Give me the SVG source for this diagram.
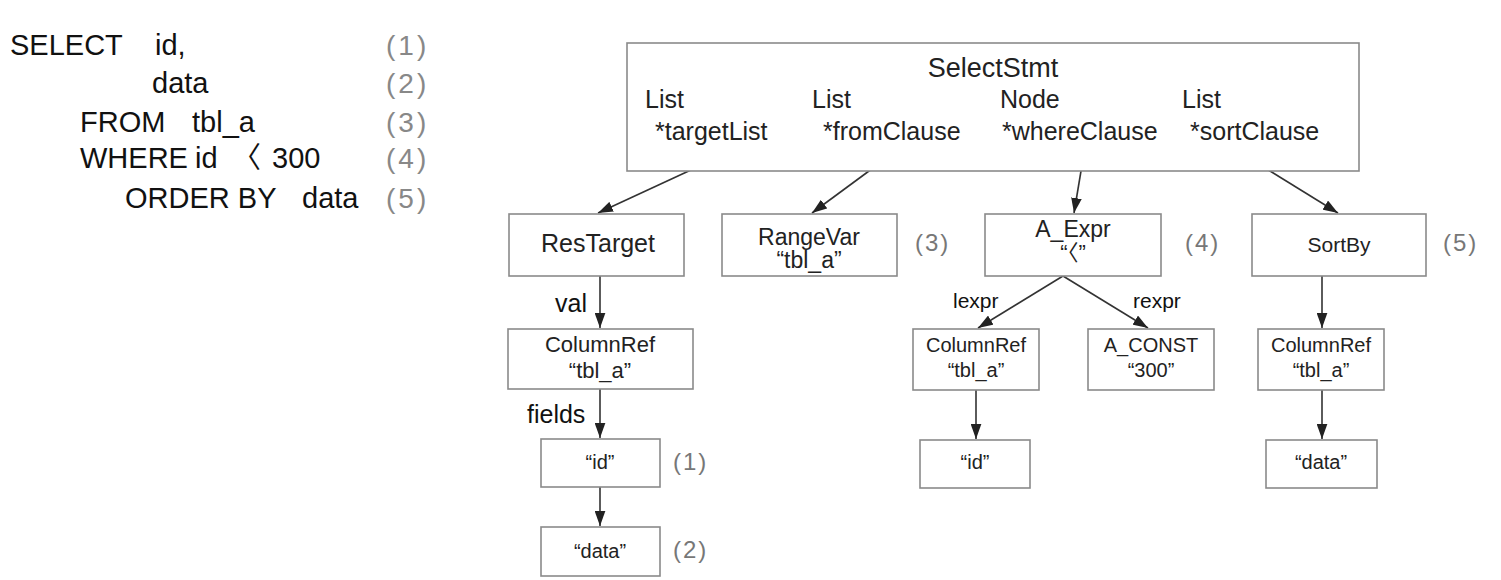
<svg xmlns="http://www.w3.org/2000/svg" width="1501" height="580" viewBox="0 0 1501 580">
<defs>
<marker id="ah" viewBox="0 0 14 10" refX="14" refY="5" markerWidth="15" markerHeight="11" markerUnits="userSpaceOnUse" orient="auto">
<path d="M0,0 L14,5 L0,10 z" fill="#222"/>
</marker>
</defs>
<style>
text{font-family:"Liberation Sans","Noto Sans CJK JP",sans-serif;fill:#222}
.sql{font-size:29px;fill:#111}
.num{font-size:28px;fill:#888;letter-spacing:3px}
.gnum{font-size:24px;fill:#777;letter-spacing:2px}
.box{fill:#fff;stroke:#8a8a8a;stroke-width:1.6}
.top{font-size:25px}
.lbl{font-size:25px;fill:#111}
.el{font-size:21px;fill:#111}
.c{text-anchor:middle}
.con line{stroke:#333;stroke-width:1.6;fill:none;marker-end:url(#ah)}
</style>
<rect width="1501" height="580" fill="#fff"/>

<g id="sql">
<text class="sql" x="10" y="55">SELECT</text><text class="sql" x="155" y="55">id,</text>
<text class="sql" x="152" y="93">data</text>
<text class="sql" x="80" y="132">FROM</text><text class="sql" x="192" y="132">tbl_a</text>
<text class="sql" x="80" y="168">WHERE</text><text class="sql" x="195" y="168">id</text><text class="sql" x="232" y="168">〈</text><text class="sql" x="272" y="168">300</text>
<text class="sql" x="125" y="208">ORDER BY</text><text class="sql" x="302" y="208">data</text>
<text class="num" x="386" y="55">(1)</text>
<text class="num" x="386" y="93">(2)</text>
<text class="num" x="386" y="132">(3)</text>
<text class="num" x="386" y="168">(4)</text>
<text class="num" x="386" y="208">(5)</text>
</g>

<g id="connectors" class="con">
<line x1="719" y1="157" x2="598" y2="213"/>
<line x1="888" y1="157" x2="812" y2="213"/>
<line x1="1082" y1="165" x2="1074" y2="213"/>
<line x1="1257" y1="163" x2="1338" y2="213"/>
<line x1="600" y1="276" x2="600" y2="328"/>
<line x1="600" y1="389" x2="600" y2="438"/>
<line x1="600" y1="487" x2="600" y2="526"/>
<line x1="1063" y1="276" x2="978" y2="328"/>
<line x1="1063" y1="276" x2="1148" y2="328"/>
<line x1="976" y1="390" x2="976" y2="439"/>
<line x1="1322" y1="276" x2="1322" y2="328"/>
<line x1="1322" y1="390" x2="1322" y2="439"/>
<text class="lbl" x="555" y="312">val</text>
<text class="lbl" x="527" y="423">fields</text>
<text class="el" x="953" y="308">lexpr</text>
<text class="el" x="1133" y="308">rexpr</text>
</g>

<g id="SelectStmt">
<rect class="box" x="627" y="43" width="732" height="128"/>
<text class="c" x="993" y="77" font-size="27">SelectStmt</text>
<text class="top" x="645" y="108">List</text>
<text class="top" x="655" y="140">*targetList</text>
<text class="top" x="812" y="108">List</text>
<text class="top" x="823" y="140">*fromClause</text>
<text class="top" x="1000" y="108">Node</text>
<text class="top" x="1002" y="140">*whereClause</text>
<text class="top" x="1182" y="108">List</text>
<text class="top" x="1190" y="140">*sortClause</text>
</g>

<g id="ResTarget">
<rect class="box" x="509" y="214" width="175" height="62"/>
<text class="c" x="598" y="252" font-size="25">ResTarget</text>
</g>

<g id="RangeVar">
<rect class="box" x="722" y="214" width="175" height="62"/>
<text class="c" x="809" y="245" font-size="23">RangeVar</text>
<text class="c" x="809" y="268" font-size="23">“tbl_a”</text>
<text class="gnum" x="915" y="251">(3)</text>
</g>

<g id="A_Expr">
<rect class="box" x="985" y="214" width="176" height="62"/>
<text class="c" x="1073" y="237" font-size="23">A_Expr</text>
<text class="c" x="1073" y="260" font-size="22">“〈”</text>
<text class="gnum" x="1185" y="251">(4)</text>
</g>

<g id="SortBy">
<rect class="box" x="1252" y="214" width="174" height="62"/>
<text class="c" x="1339" y="252" font-size="21">SortBy</text>
<text class="gnum" x="1443" y="251">(5)</text>
</g>

<g id="ColumnRef1">
<rect class="box" x="508" y="329" width="185" height="60"/>
<text class="c" x="600" y="352" font-size="22">ColumnRef</text>
<text class="c" x="600" y="378" font-size="22">“tbl_a”</text>
</g>

<g id="id1">
<rect class="box" x="541" y="439" width="119" height="48"/>
<text class="c" x="600" y="469" font-size="20">“id”</text>
<text class="gnum" x="673" y="470">(1)</text>
</g>

<g id="data1">
<rect class="box" x="541" y="527" width="119" height="49"/>
<text class="c" x="600" y="558" font-size="20">“data”</text>
<text class="gnum" x="673" y="558">(2)</text>
</g>

<g id="ColumnRef2">
<rect class="box" x="913" y="329" width="126" height="61"/>
<text class="c" x="976" y="352" font-size="20">ColumnRef</text>
<text class="c" x="976" y="377" font-size="20">“tbl_a”</text>
</g>

<g id="A_CONST">
<rect class="box" x="1088" y="329" width="126" height="61"/>
<text class="c" x="1151" y="352" font-size="20">A_CONST</text>
<text class="c" x="1151" y="377" font-size="20">“300”</text>
</g>

<g id="id2">
<rect class="box" x="920" y="440" width="110" height="48"/>
<text class="c" x="975" y="469" font-size="20">“id”</text>
</g>

<g id="ColumnRef3">
<rect class="box" x="1258" y="329" width="126" height="61"/>
<text class="c" x="1321" y="352" font-size="20">ColumnRef</text>
<text class="c" x="1321" y="377" font-size="20">“tbl_a”</text>
</g>

<g id="data2">
<rect class="box" x="1266" y="440" width="111" height="48"/>
<text class="c" x="1321" y="469" font-size="20">“data”</text>
</g>
</svg>
